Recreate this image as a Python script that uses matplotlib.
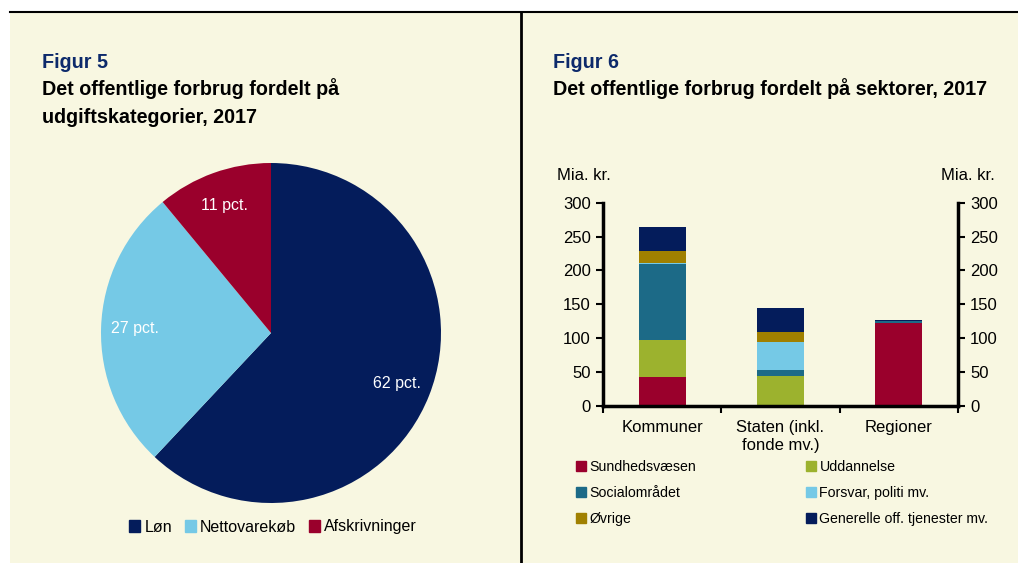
import matplotlib
matplotlib.use("Agg")
import matplotlib.pyplot as plt
from matplotlib.patches import Rectangle, Patch
from matplotlib.lines import Line2D
import numpy as np

plt.rcParams['font.family'] = ['Liberation Sans', 'DejaVu Sans']

# ---- data ----
pie_labels = ["Løn", "Nettovarekøb", "Afskrivninger"]
pie_values = [62, 27, 11]
pie_colors = ["#041C5B", "#75C9E6", "#9A002C"]

sectors = ["Kommuner", "Staten (inkl.\nfonde mv.)", "Regioner"]
series_names = ["Sundhedsvæsen", "Uddannelse", "Socialområdet",
                "Forsvar, politi mv.", "Øvrige", "Generelle off. tjenester mv."]
sundhed = [43, 0, 122]
uddannelse = [54, 45, 0]
social = [113, 8, 3]
forsvar = [1.5, 41, 0]
ovrige = [17, 15, 0]
generelle = [36, 36, 1.5]
series_values = [sundhed, uddannelse, social, forsvar, ovrige, generelle]
series_colors = ["#9A002C", "#9CB22E", "#1C6A87", "#75C9E6", "#A08000", "#041C5B"]
yticks = [0, 50, 100, 150, 200, 250, 300]

W, H = 1018, 563
BG = "#F8F7E1"
NAVY = "#0D2A6B"

fig = plt.figure(figsize=(W / 100, H / 100), dpi=100, facecolor="white")

def fx(px):
    return px / W

def fy(py):
    return 1 - py / H

# cream background and frame lines
fig.patches.append(Rectangle((fx(10), 0), 1 - fx(10), fy(12), transform=fig.transFigure,
                             facecolor=BG, edgecolor="none", zorder=-5))
fig.lines.append(Line2D([fx(10), 1], [fy(12), fy(12)], transform=fig.transFigure,
                        color="black", lw=1.5))
fig.lines.append(Line2D([fx(521), fx(521)], [fy(12), 0], transform=fig.transFigure,
                        color="black", lw=2))

TS = 14.2
# titles
fig.text(fx(42), fy(62), "Figur 5", color=NAVY, fontsize=TS, fontweight="bold", va="center")
fig.text(fx(42), fy(89), "Det offentlige forbrug fordelt på", color="black", fontsize=TS,
         fontweight="bold", va="center")
fig.text(fx(42), fy(117), "udgiftskategorier, 2017", color="black", fontsize=TS,
         fontweight="bold", va="center")
fig.text(fx(553), fy(62), "Figur 6", color=NAVY, fontsize=TS, fontweight="bold", va="center")
fig.text(fx(553), fy(89), "Det offentlige forbrug fordelt på sektorer, 2017", color="black",
         fontsize=TS, fontweight="bold", va="center")

# ---- pie ----
axp = fig.add_axes([fx(101), fy(503), fx(340), 340 / H])
wedges, texts, autotexts = axp.pie(pie_values, colors=pie_colors, startangle=90, counterclock=False,
                                   autopct=lambda p: f"{p:.0f} pct.", pctdistance=0.8,
                                   textprops=dict(color="white", fontsize=11.5))
axp.set_xlim(-1, 1)
axp.set_ylim(-1, 1)
axp.set_aspect("equal")
axp.axis("off")

fig.legend([Patch(color=c) for c in pie_colors], pie_labels, loc="center",
           bbox_to_anchor=(fx(273), fy(527)), ncol=3, frameon=False, fontsize=11.5,
           handlelength=0.7, handleheight=0.7, handletextpad=0.25, columnspacing=0.8,
           borderpad=0)

# ---- stacked bars ----
axb = fig.add_axes([fx(603.3), fy(406), fx(957.7 - 603.3), (406 - 202.7) / H])
axb.set_facecolor("none")
x = np.arange(len(sectors))
bottom = np.zeros(len(sectors))
handles = []
for name, vals, col in zip(series_names, series_values, series_colors):
    axb.bar(x, vals, width=0.4, bottom=bottom, color=col, label=name, zorder=2)
    handles.append(Patch(color=col))
    bottom += np.array(vals)

axb.set_xlim(-0.5, 2.5)
axb.set_ylim(0, 300)
axb.set_yticks(yticks)
axb.set_xticks([-0.5, 0.5, 1.5, 2.5])
axb.set_xticklabels([])
axb.set_xticks(x, minor=True)
axb.set_xticklabels(sectors, minor=True, fontsize=12, linespacing=1.25)
axb.tick_params(axis="x", which="minor", length=0, pad=10)
axb.tick_params(axis="x", which="major", direction="out", length=5, width=1.5)
axb.tick_params(axis="y", direction="out", length=5, width=1.5, labelsize=12, pad=4,
                left=True, right=True, labelleft=True, labelright=True)
for s in ["left", "right", "bottom"]:
    axb.spines[s].set_linewidth(2.5)
axb.spines["top"].set_visible(False)

fig.text(fx(557), fy(175), "Mia. kr.", fontsize=12, va="center", ha="left")
fig.text(fx(995), fy(175), "Mia. kr.", fontsize=12, va="center", ha="right")

order = [0, 2, 4, 1, 3, 5]
fig.legend([handles[i] for i in order], [series_names[i] for i in order],
           loc="upper left", bbox_to_anchor=(fx(576), fy(460)), ncol=2, frameon=False,
           fontsize=10.2, handlelength=0.7, handleheight=0.7, handletextpad=0.25,
           columnspacing=7.75, labelspacing=0.85, borderpad=0, borderaxespad=0)

fig.savefig("out.png", dpi=100, facecolor="white")
